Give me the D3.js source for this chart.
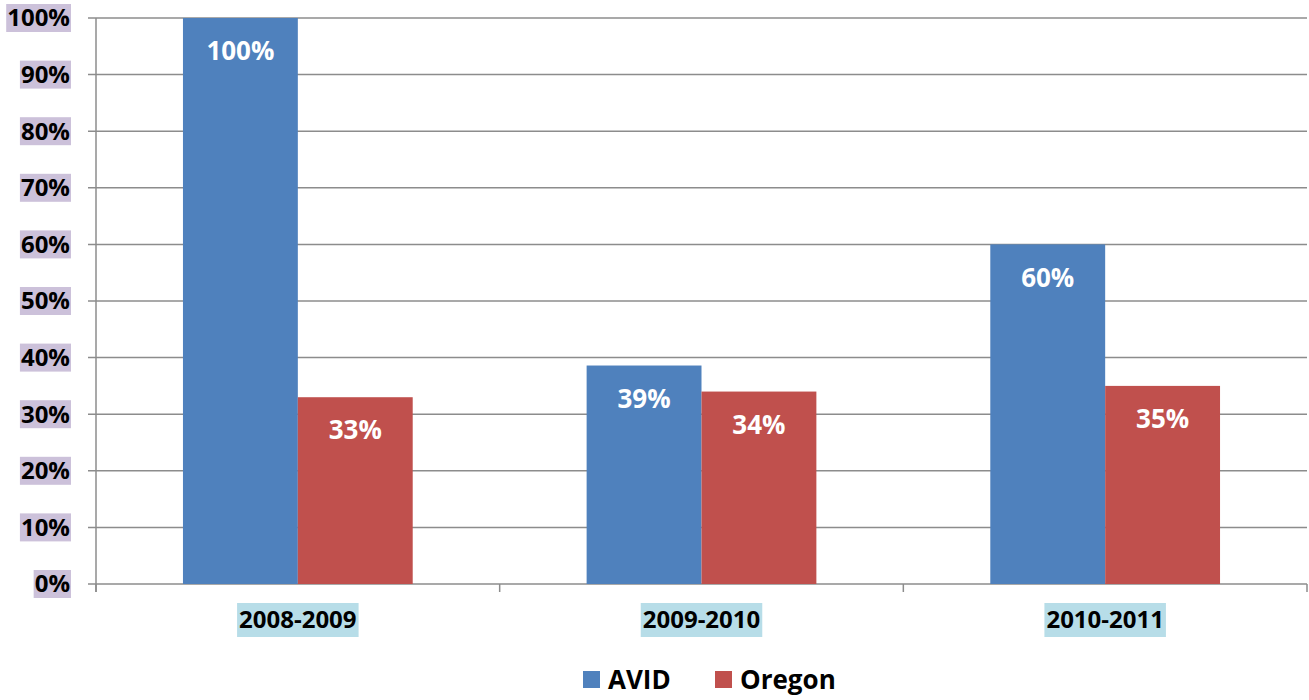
<!DOCTYPE html>
<html><head><meta charset="utf-8">
<script src="https://cdn.jsdelivr.net/npm/d3@7"></script>
<style>body{margin:0;background:#fff}svg{display:block}text{font-family:"Open Sans",sans-serif;font-weight:bold}</style>
</head><body>
<svg id="c" width="1309" height="700"></svg>
<script>
const categories = ["2008-2009","2009-2010","2010-2011"];
const seriesNames = ["AVID","Oregon"];
const avid = [100, 38.6, 60];
const oregon = [33, 34, 35];
const avidLabels = ["100%","39%","60%"];
const oregonLabels = ["33%","34%","35%"];
const yTicks = [0,10,20,30,40,50,60,70,80,90,100];
const colors = ["#4f81bd","#c0504d"];

const svg = d3.select("#c");
const m = {l:96, r:1307, t:18, b:584};
const x = d3.scaleBand().domain(categories).range([m.l, m.r]).paddingInner(0).paddingOuter(0);
const x1 = d3.scaleBand().domain(seriesNames).range([0, x.bandwidth()]).paddingOuter(0.757).paddingInner(0);
const y = d3.scaleLinear().domain([0,100]).range([m.b, m.t]);

// gridlines
svg.append("g").selectAll("line").data(yTicks).join("line")
  .attr("x1", m.l-8).attr("x2", m.r).attr("y1", d=>y(d)).attr("y2", d=>y(d))
  .attr("stroke", "#8c8c8c").attr("stroke-width", 1.5);
// y axis line
svg.append("line").attr("x1", m.l).attr("x2", m.l).attr("y1", m.t).attr("y2", m.b+8)
  .attr("stroke", "#8c8c8c").attr("stroke-width", 1.5);
// x ticks at boundaries
const bounds = categories.map(c=>x(c)).concat([m.r]);
svg.append("g").selectAll("line").data(bounds).join("line")
  .attr("x1", d=>d).attr("x2", d=>d).attr("y1", m.b).attr("y2", m.b+8)
  .attr("stroke", "#8c8c8c").attr("stroke-width", 1.5);

// y labels with background
const yl = svg.append("g").selectAll("g").data(yTicks).join("g");
yl.each(function(d){
  const g = d3.select(this);
  const t = g.append("text").attr("x", 70).attr("y", y(d)).attr("dy","0.35em")
    .attr("text-anchor","end").attr("font-size", 24).attr("fill","#000").text(d+"%");
  const bb = t.node().getBBox();
  g.insert("rect","text").attr("x", bb.x-1).attr("y", y(d)-14).attr("width", bb.width+2).attr("height", 28).attr("fill","#ccc1da");
});

// x labels
const xl = svg.append("g").selectAll("g").data(categories).join("g");
xl.each(function(d){
  const g = d3.select(this);
  const cx = x(d)+x.bandwidth()/2;
  const t = g.append("text").attr("x", cx).attr("y", 620).attr("dy","0.35em")
    .attr("text-anchor","middle").attr("font-size", 24).attr("fill","#000").text(d);
  const bb = t.node().getBBox();
  g.insert("rect","text").attr("x", bb.x-2).attr("y", 603).attr("width", bb.width+4).attr("height", 34).attr("fill","#b7dde8");
});

// bars
const data = [avid, oregon];
const labels = [avidLabels, oregonLabels];
seriesNames.forEach((s,i)=>{
  const g = svg.append("g");
  g.selectAll("rect").data(categories).join("rect")
    .attr("x", c=>x(c)+x1(s)).attr("width", x1.bandwidth())
    .attr("y", (c,j)=>y(data[i][j])).attr("height", (c,j)=>m.b-y(data[i][j]))
    .attr("fill", colors[i]);
  g.selectAll("text").data(categories).join("text")
    .attr("x", c=>x(c)+x1(s)+x1.bandwidth()/2)
    .attr("y", (c,j)=>y(data[i][j])+33).attr("dy","0.35em")
    .attr("text-anchor","middle").attr("font-size", 26).attr("fill","#fff")
    .text((c,j)=>labels[i][j]);
});

// legend
const leg = [{n:"AVID", x:583},{n:"Oregon", x:715}];
leg.forEach((l,i)=>{
  svg.append("rect").attr("x", l.x).attr("y", 671).attr("width", 17).attr("height", 17).attr("fill", colors[i]);
  svg.append("text").attr("x", l.x+25).attr("y", 680).attr("dy","0.35em").attr("font-size", 26).attr("fill","#000").text(l.n);
});
</script>
</body></html>
